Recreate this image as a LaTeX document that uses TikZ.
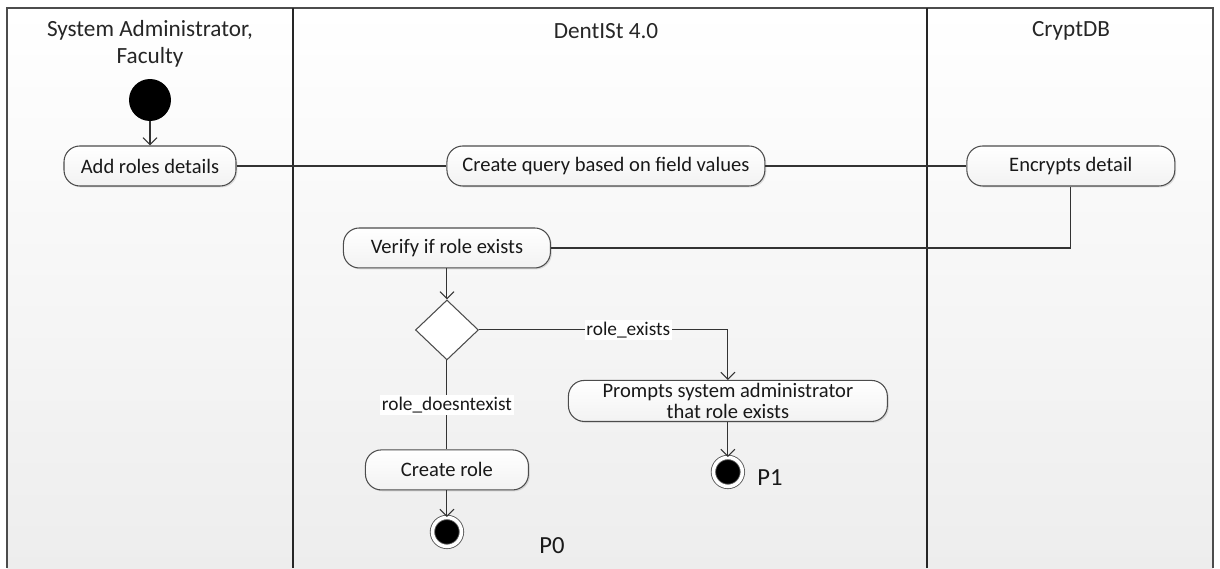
\documentclass[tikz,border=0pt]{standalone}
\usepackage{fontspec}
\setmainfont{Carlito}
\usepackage{tikz}
\usetikzlibrary{arrows.meta,positioning,shadows,shapes.geometric}

\tikzset{
    action/.style={rectangle, rounded corners=9pt, draw=black!70, line width=0.6pt,
        top color=white, bottom color=black!5, minimum height=0.8cm, inner sep=1pt,
        align=center, font=\fontsize{11.7}{13}\selectfont, text=black!90,
        drop shadow={shadow xshift=0.8pt, shadow yshift=-0.8pt, opacity=0.25}},
    initial/.style={circle, fill=black, minimum size=0.84cm, inner sep=0pt},
    final/.style={circle, fill=black, draw=black!65, double=white, double distance=2pt,
        line width=0.5pt, minimum size=0.58cm, inner sep=0pt},
    decision/.style={diamond, draw=black!70, line width=0.6pt, fill=white,
        minimum width=1.26cm, minimum height=1.2cm, inner sep=0pt, aspect=1},
    guard/.style={fill=white, inner sep=1pt, font=\fontsize{11}{12}\selectfont, text=black!90},
    plabel/.style={font=\fontsize{14}{16}\selectfont, text=black!90},
    lanehead/.style={align=center, font=\fontsize{13.2}{15.5}\selectfont, text=black!85},
    flow/.style={draw=black!80, line width=0.6pt},
}

\begin{document}
\begin{tikzpicture}[
                x=0.02cm, y=-0.02cm,
                node distance=2cm,
                on grid,
                >={Straight Barb[length=4pt,width=8pt]}]
            \useasboundingbox (0,0) rectangle (1220,568);

            % swimlanes
            \shade[top color=white, bottom color=black!7] (7,8) rectangle (1213,568);
            \draw[black!70, line width=1.2pt] (7,568) -- (7,8) -- (1213,8) -- (1213,568);
            \draw[black!85, line width=0.6pt] (293,8) -- (293,568);
            \draw[black!85, line width=0.6pt] (927,8) -- (927,568);
            \node[lanehead] (hadmin) at (150,44)  {System Administrator,\\Faculty};
            \node[lanehead] (hdent)  at (606,31)  {DentISt 4.0};
            \node[lanehead] (hcrypt) at (1071,31) {CryptDB};

            % activities
            \node[initial]                 (start)    at (150,100)                          {};
            \node[action, minimum width=3.44cm] (addroles) [below=1.32cm of start]          {Add roles details};
            \node[action, minimum width=6.36cm] (query)    [right=9.12cm of addroles]       {Create query based on field values};
            \node[action, minimum width=4.16cm] (encrypt)  [right=9.3cm of query]           {Encrypts detail};
            \node[action, minimum width=4.14cm] (verify)   [below left=1.64cm and 3.18cm of query] {Verify if role exists};
            \node[decision]                (check)    [below=1.64cm of verify]              {};
            \node[action, minimum width=6.38cm, minimum height=0.82cm, inner sep=0pt,
                  font=\fontsize{11.7}{12.5}\selectfont] (prompt)
                [below right=1.42cm and 5.62cm of check]
                {Prompts system administrator\\that role exists};
            \node[action, minimum width=3.26cm] (create)   [below=2.8cm of check]           {Create role};
            \node[final]                   (endp1)    [below=1.42cm of prompt]              {};
            \node[final]                   (endp0)    [below=1.24cm of create]              {};
            \node[plabel]                  (p1)       [below right=0.12cm and 0.84cm of endp1] {P1};
            \node[plabel]                  (p0)       [below right=0.28cm and 2.1cm of endp0]  {P0};

            % flows
            \draw[flow,->] (start) -- (addroles);
            \draw[flow] (addroles) -- (query);
            \draw[flow] (query) -- (encrypt);
            \draw[flow] (encrypt.south) |- (verify.east);
            \draw[flow,->] (verify) -- (check);
            \draw[flow,->] (check.east) -| node[guard, pos=0.3] {role\_exists} (prompt.north);
            \draw[flow] (check.south) -- node[guard] {role\_doesntexist} (create.north);
            \draw[flow,->] (prompt) -- (endp1);
            \draw[flow,->] (create) -- (endp0);
        \end{tikzpicture}
\end{document}
